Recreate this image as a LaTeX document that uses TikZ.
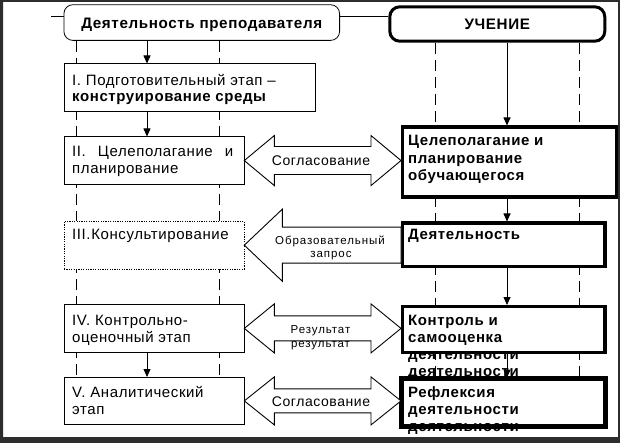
\documentclass[tikz,border=0pt]{standalone}
\usepackage{fontspec}
\setmainfont{Liberation Sans}
\newfontfamily\spfont[LetterSpace=4]{Liberation Sans}
\newfontfamily\labfont[LetterSpace=8]{Liberation Sans}
\usetikzlibrary{arrows.meta,calc}
\definecolor{framec}{HTML}{2D2D2D}
\tikzset{
  thinbox/.style={draw, line width=0.8pt, fill=white, inner sep=0pt, anchor=north west},
  dotbox/.style={thinbox, dash pattern=on 1.2pt off 1.2pt},
  thickbox/.style={draw, line width=3.3pt, fill=white, inner sep=0pt, anchor=north west},
  hdrthin/.style={draw, line width=0.8pt, fill=white, rounded corners=9pt, anchor=north west, inner sep=0pt,
     text height=11.5pt, text depth=0pt, font=\spfont\bfseries\fontsize{15.2}{18}\selectfont},
  hdrthick/.style={hdrthin, line width=3pt, rounded corners=10pt},
  reg/.style={font=\spfont\fontsize{15}{17}\selectfont, inner sep=0pt, anchor=base west},
  bld/.style={font=\spfont\bfseries\fontsize{15}{17}\selectfont, inner sep=0pt, anchor=base west},
  lab/.style={font=\labfont\fontsize{11.5}{14}\selectfont, inner sep=0pt, anchor=base},
  labbig/.style={font=\spfont\fontsize{14}{16}\selectfont, inner sep=0pt, anchor=base},
  arr/.style={line width=0.8pt, -{Triangle[length=8pt,width=7pt]}},
  dashln/.style={line width=0.8pt, dash pattern=on 11pt off 6pt},
  blk/.style={draw, line width=0.9pt, fill=white, line join=miter},
  conn/.style={line width=0.8pt}
}
\begin{document}
\begin{tikzpicture}[x=1pt,y=-1pt]
\useasboundingbox (0,0) rectangle (620,443);
\fill[white] (0,0) rectangle (620,443);
% guide coordinates
\coordinate (lx) at (147,0);
\coordinate (rx) at (507,0);
\coordinate (d1) at (76,0);
\coordinate (d2) at (219.5,0);
\coordinate (d3) at (435.5,0);
\coordinate (d4) at (579,0);
\coordinate (stub) at (51,16);
% headers
\node[hdrthin, minimum width=275.7pt, minimum height=35.7pt] (h1) at (63.5,4.3) {Деятельность преподавателя};
\node[hdrthick, minimum width=215pt, minimum height=34.4pt] (h2) at (388.3,5.3) {УЧЕНИЕ};
\draw[conn] (stub) -- (stub -| h1.west);
\draw[conn] (stub -| h1.east) -- (stub -| h2.west);
% dashed swimlane lines
\coordinate (bot) at (0,377);
\draw[dashln] (h1.south -| d1) -- (bot -| d1);
\draw[dashln] (h1.south -| d2) -- (bot -| d2);
\draw[dashln] (h2.south -| d3) -- (bot -| d3);
\draw[dashln] (h2.south -| d4) -- (bot -| d4);
% left column boxes
\node[thinbox, minimum width=251.5pt, minimum height=48pt] (b1) at (63.5,63.5) {};
\node[thinbox, minimum width=180pt, minimum height=47.3pt] (b2) at (63.5,136.5) {};
\node[dotbox, minimum width=180pt, minimum height=47.4pt] (b3) at (63.5,221.1) {};
\node[thinbox, minimum width=180pt, minimum height=48pt] (b4) at (63.5,304) {};
\node[thinbox, minimum width=180pt, minimum height=47pt] (b5) at (63.5,377) {};
% left texts
\node[reg] (t1a) at (72,86) {I. Подготовительный этап –};
\node[bld] (t1b) at (72,102) {конструирование среды};
\node[reg] (t2a) at (72,157) {\makebox[161pt][s]{II. Целеполагание и}};
\node[reg] (t2b) at (72,174) {планирование};
\node[reg] (t3a) at (72,240) {III.Консультирование};
\node[reg] (t4a) at (72,325) {IV. Контрольно-};
\node[reg] (t4b) at (72,342) {оценочный этап};
\node[reg] (t5a) at (72,397) {V. Аналитический};
\node[reg] (t5b) at (72,414) {этап};
% right column boxes
\node[thickbox, minimum width=214pt, minimum height=70pt] (r1) at (401,125.5) {};
\node[bld] (s1a) at (408,146) {Целеполагание и};
\node[bld] (s1b) at (408,163.5) {планирование};
\node[bld] (s1c) at (408,181) {обучающегося};
\node[thickbox, minimum width=202.3pt, minimum height=43.5pt] (r2) at (401,221.5) {};
\node[bld] (s2a) at (408,240) {Деятельность};
\node[thickbox, minimum width=202.3pt, minimum height=46pt] (r3) at (401,305) {};
\node[bld] (s3a) at (408,325) {Контроль и};
\node[bld] (s3b) at (408,342) {самооценка};
\node[bld] (s3c) at (408,359) {деятельности};
\node[bld] (s3d) at (408,376) {деятельности};
\node[thickbox, minimum width=202pt, minimum height=46.6pt] (r4) at (401,377.7) {};
\node[bld] (s4a) at (408,397) {Рефлексия};
\node[bld] (s4b) at (408,414) {деятельности};
\node[bld] (s4c) at (408,431) {деятельности};
\draw[line width=3.3pt] (r4.north west) rectangle (r4.south east);
% vertical arrows
\draw[arr] (h1.south -| lx) -- (b1.north -| lx);
\draw[arr] (b1.south -| lx) -- (b2.north -| lx);
\draw[arr] (b4.south -| lx) -- (b5.north -| lx);
\draw[arr] (h2.south -| rx) -- (r1.north -| rx);
\draw[arr] (r1.south -| rx) -- (r2.north -| rx);
\draw[arr] (r2.south -| rx) -- (r3.north -| rx);
\draw[arr] (r3.south -| rx) -- (r4.north -| rx);
% block arrows (tips on the box edges, kept horizontal)
\draw[blk] (b2.east) -- ++(30,-25) -- ++(0,11) -- ($(b2.east -| r1.west)+(-30,-14)$) -- ++(0,-11) -- (b2.east -| r1.west)
  -- ++(-30,25) -- ++(0,-11) -- ($(b2.east)+(30,14)$) -- ++(0,11) -- cycle;
\draw[blk] (b3.east) -- ++(38,-36) -- ++(0,18) -- ($(b3.east -| r2.west)+(0,-18)$) -- ($(b3.east -| r2.west)+(0,18)$)
  -- ($(b3.east)+(38,18)$) -- ++(0,18) -- cycle;
\draw[blk] (b4.east) -- ++(30,-24.5) -- ++(0,12) -- ($(b4.east -| r3.west)+(-30,-12.5)$) -- ++(0,-12) -- (b4.east -| r3.west)
  -- ++(-30,24.5) -- ++(0,-12) -- ($(b4.east)+(30,12.5)$) -- ++(0,12) -- cycle;
\draw[blk] (b5.east) -- ++(30,-24) -- ++(0,12) -- ($(b5.east -| r4.west)+(-30,-12)$) -- ++(0,-12) -- (b5.east -| r4.west)
  -- ++(-30,24) -- ++(0,-12) -- ($(b5.east)+(30,12)$) -- ++(0,12) -- cycle;
% arrow labels
\node[labbig] (l1) at (321,166) {Согласование};
\node[lab] (l2a) at (330,244) {Образовательный};
\node[lab] (l2b) at (331,258) {запрос};
\node[lab] (l3a) at (320.5,333) {Результат};
\node[lab] (l3b) at (320.5,347) {результат};
\node[labbig] (l4) at (321,406.5) {Согласование};
% outer frame
\fill[framec, even odd rule] (0,0) rectangle (620,443) (3,2) rectangle (618,437);
\end{tikzpicture}
\end{document}
